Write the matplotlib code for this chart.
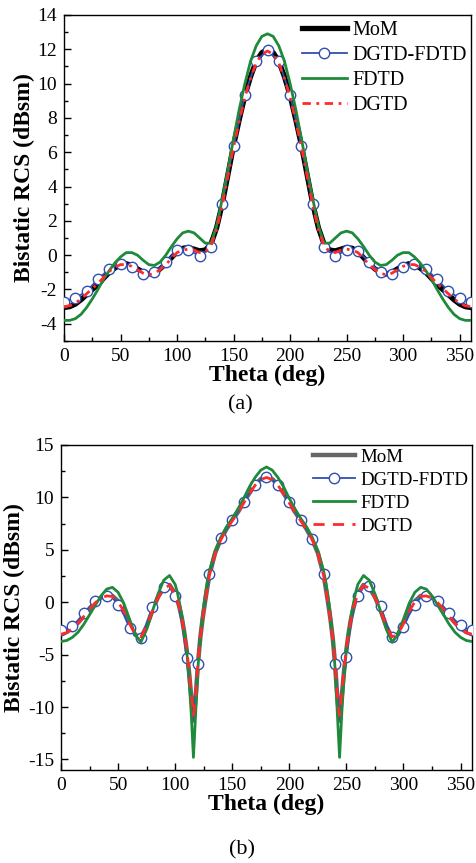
import numpy as np
import matplotlib
matplotlib.use('Agg')
import matplotlib.pyplot as plt
from matplotlib.ticker import MultipleLocator

plt.rcParams['font.family'] = ['Liberation Serif', 'DejaVu Serif']

# ---------- (a) ----------
theta_a = np.arange(0, 361, 5)
mom_a = [-3.05, -3.0, -2.85, -2.6, -2.3, -2.0, -1.7, -1.35, -1.0, -0.75, -0.55, -0.5,
         -0.6, -0.8, -1.0, -1.1, -1.0, -0.8, -0.5, -0.15, 0.2, 0.4, 0.45, 0.35, 0.25,
         0.3, 0.65, 1.6, 3.0, 4.7, 6.4, 7.9, 9.3, 10.4, 11.3, 11.8, 12.0,
         11.8, 11.3, 10.4, 9.3, 7.9, 6.4, 4.7, 3.0, 1.6, 0.65, 0.3, 0.25, 0.35, 0.45,
         0.4, 0.2, -0.15, -0.5, -0.8, -1.0, -1.1, -1.0, -0.8, -0.6, -0.5, -0.55, -0.75,
         -1.0, -1.35, -1.7, -2.0, -2.3, -2.6, -2.85, -3.0, -3.05]
dgtd_a = [-3.0, -2.95, -2.8, -2.55, -2.25, -1.95, -1.65, -1.3, -0.95, -0.7, -0.55, -0.55,
          -0.65, -0.85, -1.05, -1.15, -1.05, -0.85, -0.55, -0.2, 0.15, 0.3, 0.35, 0.3, 0.15,
          0.2, 0.55, 1.5, 2.9, 4.6, 6.3, 7.8, 9.2, 10.3, 11.2, 11.7, 11.9,
          11.7, 11.2, 10.3, 9.2, 7.8, 6.3, 4.6, 2.9, 1.5, 0.55, 0.2, 0.15, 0.3, 0.35,
          0.3, 0.15, -0.2, -0.55, -0.85, -1.05, -1.15, -1.05, -0.85, -0.65, -0.55, -0.55, -0.7,
          -0.95, -1.3, -1.65, -1.95, -2.25, -2.55, -2.8, -2.95, -3.0]
fdtd_a = [-3.8, -3.8, -3.7, -3.45, -3.05, -2.55, -2.0, -1.4, -0.9, -0.45, -0.1, 0.15,
          0.15, 0.0, -0.3, -0.55, -0.6, -0.4, 0.0, 0.5, 0.95, 1.3, 1.4, 1.3, 1.0,
          0.7, 0.7, 1.7, 3.3, 5.0, 6.8, 8.5, 10.0, 11.3, 12.2, 12.75, 12.9,
          12.75, 12.2, 11.3, 10.0, 8.5, 6.8, 5.0, 3.3, 1.7, 0.7, 0.7, 1.0, 1.3, 1.4,
          1.3, 0.95, 0.5, 0.0, -0.4, -0.6, -0.55, -0.3, 0.0, 0.15, 0.15, -0.1, -0.45,
          -0.9, -1.4, -2.0, -2.55, -3.05, -3.45, -3.7, -3.8, -3.8]
theta_m = np.arange(0, 361, 10)
dgfd_a = [-2.7, -2.5, -2.1, -1.4, -0.8, -0.5, -0.7, -1.1, -1.0, -0.4, 0.3, 0.3, -0.05,
          0.5, 3.0, 6.35, 9.35, 11.3, 11.95, 11.3, 9.35, 6.35, 3.0, 0.5, -0.05, 0.3, 0.25,
          -0.4, -1.0, -1.1, -0.7, -0.5, -0.8, -1.4, -2.1, -2.5, -2.7]

# ---------- (b) ----------
theta_b = [0, 5, 10, 15, 20, 25, 30, 35, 40, 45, 50, 55, 60, 65, 70, 75, 80, 85, 90, 95, 100,
           102, 104, 106, 108, 110, 112, 114, 116, 118, 120, 122, 124, 126, 128, 130,
           135, 140, 145, 150, 155, 160, 165, 170, 175, 180, 185, 190, 195, 200, 205, 210,
           215, 220, 225, 230, 232, 234, 236, 238, 240, 242, 244, 246, 248, 250, 252, 254,
           256, 258, 260, 265, 270, 275, 280, 285, 290, 295, 300, 305, 310, 315, 320, 325,
           330, 335, 340, 345, 350, 355, 360]
mom_b = [-3.0, -2.85, -2.45, -1.95, -1.3, -0.6, 0.0, 0.45, 0.65, 0.6, 0.1, -0.8, -2.0,
         -3.1, -3.4, -2.3, -0.8, 0.5, 1.4, 1.65, 0.8,
         0.2, -0.6, -1.6, -2.9, -4.5, -6.5, -8.9, -11.3, -9.0, -5.8, -3.4, -1.6, -0.1, 1.3, 2.6,
         4.7, 6.0, 7.0, 7.8, 8.6, 9.5, 10.4, 11.2, 11.75, 11.95, 11.75, 11.2, 10.4, 9.5, 8.6,
         7.8, 7.0, 6.0, 4.7, 2.6, 1.3, -0.1, -1.6, -3.4, -5.8, -9.0, -11.3, -8.9, -6.5, -4.5,
         -2.9, -1.6, -0.6, 0.2, 0.8, 1.65, 1.4, 0.5, -0.8, -2.3, -3.4, -3.1, -2.0, -0.8, 0.1,
         0.6, 0.65, 0.45, 0.0, -0.6, -1.3, -1.95, -2.45, -2.85, -3.0]
dgtd_b = [-3.05, -2.9, -2.5, -2.0, -1.35, -0.65, -0.05, 0.4, 0.6, 0.55, 0.05, -0.85, -2.05,
          -3.1, -3.3, -2.3, -0.85, 0.45, 1.35, 1.6, 0.75,
          0.15, -0.65, -1.65, -2.9, -4.4, -6.3, -8.5, -10.8, -8.8, -5.7, -3.4, -1.6, -0.15,
          1.25, 2.55, 4.65, 5.95, 6.95, 7.75, 8.55, 9.45, 10.35, 11.15, 11.7, 11.9, 11.7,
          11.15, 10.35, 9.45, 8.55, 7.75, 6.95, 5.95, 4.65, 2.55, 1.25, -0.15, -1.6, -3.4,
          -5.7, -8.8, -10.8, -8.5, -6.3, -4.4, -2.9, -1.65, -0.65, 0.15, 0.75, 1.6, 1.35,
          0.45, -0.85, -2.3, -3.3, -3.1, -2.05, -0.85, 0.05, 0.55, 0.6, 0.4, -0.05, -0.65,
          -1.35, -2.0, -2.5, -2.9, -3.05]
fdtd_b = [-3.75, -3.65, -3.35, -2.85, -2.1, -1.2, -0.3, 0.6, 1.25, 1.42, 0.95, -0.1, -1.6,
          -3.1, -3.8, -2.6, -0.9, 0.8, 2.1, 2.55, 1.7,
          0.9, -0.2, -1.4, -2.8, -4.5, -7.0, -10.5, -14.8, -10.5, -6.2, -3.3, -1.2, 0.5, 1.9,
          3.0, 4.9, 6.2, 7.2, 8.0, 8.9, 9.9, 11.0, 11.9, 12.6, 12.9, 12.6, 11.9, 11.0, 9.9,
          8.9, 8.0, 7.2, 6.2, 4.9, 3.0, 1.9, 0.5, -1.2, -3.3, -6.2, -10.5, -14.8, -10.5, -7.0,
          -4.5, -2.8, -1.4, -0.2, 0.9, 1.7, 2.55, 2.1, 0.8, -0.9, -2.6, -3.8, -3.1, -1.6,
          -0.1, 0.95, 1.42, 1.25, 0.6, -0.3, -1.2, -2.1, -2.85, -3.35, -3.65, -3.75]
# DGTD-FDTD line on the same grid, circles every 10 deg
dgfd_b_line = [-2.65, -2.5, -2.25, -1.7, -1.05, -0.45, 0.1, 0.45, 0.6, 0.45, -0.25, -1.2,
               -2.45, -3.2, -3.4, -2.1, -0.5, 0.7, 1.45, 1.5, 0.6,
               0.0, -0.9, -2.0, -3.5, -5.3, -7.3, -9.3, -11.2, -8.5, -5.9, -3.3, -1.4, 0.0,
               1.4, 2.7, 4.7, 6.1, 7.0, 7.8, 8.7, 9.6, 10.4, 11.2, 11.7, 11.9, 11.7, 11.2,
               10.4, 9.6, 8.7, 7.8, 7.0, 6.05, 4.7, 2.7, 1.4, 0.0, -1.4, -3.3, -5.9, -8.5,
               -11.2, -9.3, -7.3, -5.25, -3.5, -2.0, -0.9, 0.0, 0.6, 1.5, 1.5, 0.7, -0.4,
               -2.1, -3.3, -3.2, -2.4, -1.2, -0.3, 0.45, 0.6, 0.45, 0.1, -0.45, -1.05, -1.7,
               -2.2, -2.5, -2.65]
dgfd_b = [-2.65, -2.25, -1.05, 0.1, 0.6, -0.25, -2.45, -3.4, -0.5, 1.45, 0.6, -5.3, -5.9,
          2.7, 6.1, 7.8, 9.6, 11.2, 11.9, 11.2, 9.6, 7.8, 6.05, 2.7, -5.9, -5.25, 0.6, 1.5,
          -0.4, -3.3, -2.4, -0.3, 0.6, 0.1, -1.05, -2.2, -2.65]

fig = plt.figure(figsize=(4.77, 8.63), dpi=100)
ax1 = fig.add_axes([0.1342, 0.6049, 0.8532, 0.3778])
ax2 = fig.add_axes([0.1279, 0.1078, 0.8616, 0.3766])

blue = '#3050b0'
green = '#1f8a3a'
red = '#ff2a2a'

def draw(ax, th, mom, dg, fd, line_th, line_dgfd, dgfd, mom_color, mom_lw, red_ls,
         leg_size, leg_anchor):
    ax.plot(th, mom, color=mom_color, lw=mom_lw, label='MoM', zorder=2)
    ax.plot(line_th, line_dgfd, color=blue, lw=1.3, zorder=3)
    ax.plot(theta_m, dgfd, ls='none', marker='o', ms=7.5, mfc='white',
            mec=blue, mew=1.0, zorder=3)
    ax.plot([], [], color=blue, lw=1.3, marker='o', ms=7.5, mfc='white', mec=blue,
            mew=1.0, label='DGTD-FDTD')
    ax.plot(th, fd, color=green, lw=2.0, label='FDTD', zorder=4)
    ax.plot(th, dg, color=red, lw=2.0, ls=red_ls, label='DGTD', zorder=5)
    ax.set_xlim(0, 360)
    ax.xaxis.set_major_locator(MultipleLocator(50))
    ax.xaxis.set_minor_locator(MultipleLocator(25))
    ax.tick_params(which='both', direction='in', top=False, right=False, labelsize=14)
    ax.tick_params(which='major', length=5, width=1, pad=5)
    ax.tick_params(which='minor', length=3, width=1)
    ax.set_xlabel('Theta (deg)', fontsize=17, fontweight='bold', labelpad=0)
    ax.set_ylabel('Bistatic RCS (dBsm)', fontsize=17, fontweight='bold', labelpad=2)
    for s in ax.spines.values():
        s.set_linewidth(1.0)
    ax.legend(loc='upper right', bbox_to_anchor=leg_anchor, frameon=False,
              fontsize=leg_size, handlelength=2.2, numpoints=1, borderaxespad=0,
              borderpad=0.2, labelspacing=0.3, handletextpad=0.3)

draw(ax1, theta_a, mom_a, dgtd_a, fdtd_a, theta_m, dgfd_a, dgfd_a, 'black', 3.8,
     (0, (3, 2, 1, 2)), 14.5, (1.0, 0.995))
ax1.set_ylim(-5, 14)
ax1.yaxis.set_major_locator(MultipleLocator(2))
ax1.yaxis.set_minor_locator(MultipleLocator(1))
ax1.set_yticks(ax1.get_yticks())
ax1.set_yticklabels([f'{int(v)}' for v in ax1.get_yticks()])
ax1.set_ylim(-5, 14)

draw(ax2, theta_b, mom_b, dgtd_b, fdtd_b, theta_b, dgfd_b_line, dgfd_b, '#666666', 3.2,
     (0, (4, 3)), 13.6, (1.0, 1.0))
ax2.set_ylim(-16, 15)
ax2.yaxis.set_major_locator(MultipleLocator(5))
ax2.yaxis.set_minor_locator(MultipleLocator(2.5))
ax2.set_yticks(ax2.get_yticks())
ax2.set_yticklabels([f'{int(v)}' for v in ax2.get_yticks()])
ax2.set_ylim(-16, 15)

fig.text(0.503, 1 - 405 / 863, '(a)', ha='center', va='center', fontsize=16)
fig.text(0.507, 1 - 850 / 863, '(b)', ha='center', va='center', fontsize=16)

fig.savefig('out.png', dpi=100)
